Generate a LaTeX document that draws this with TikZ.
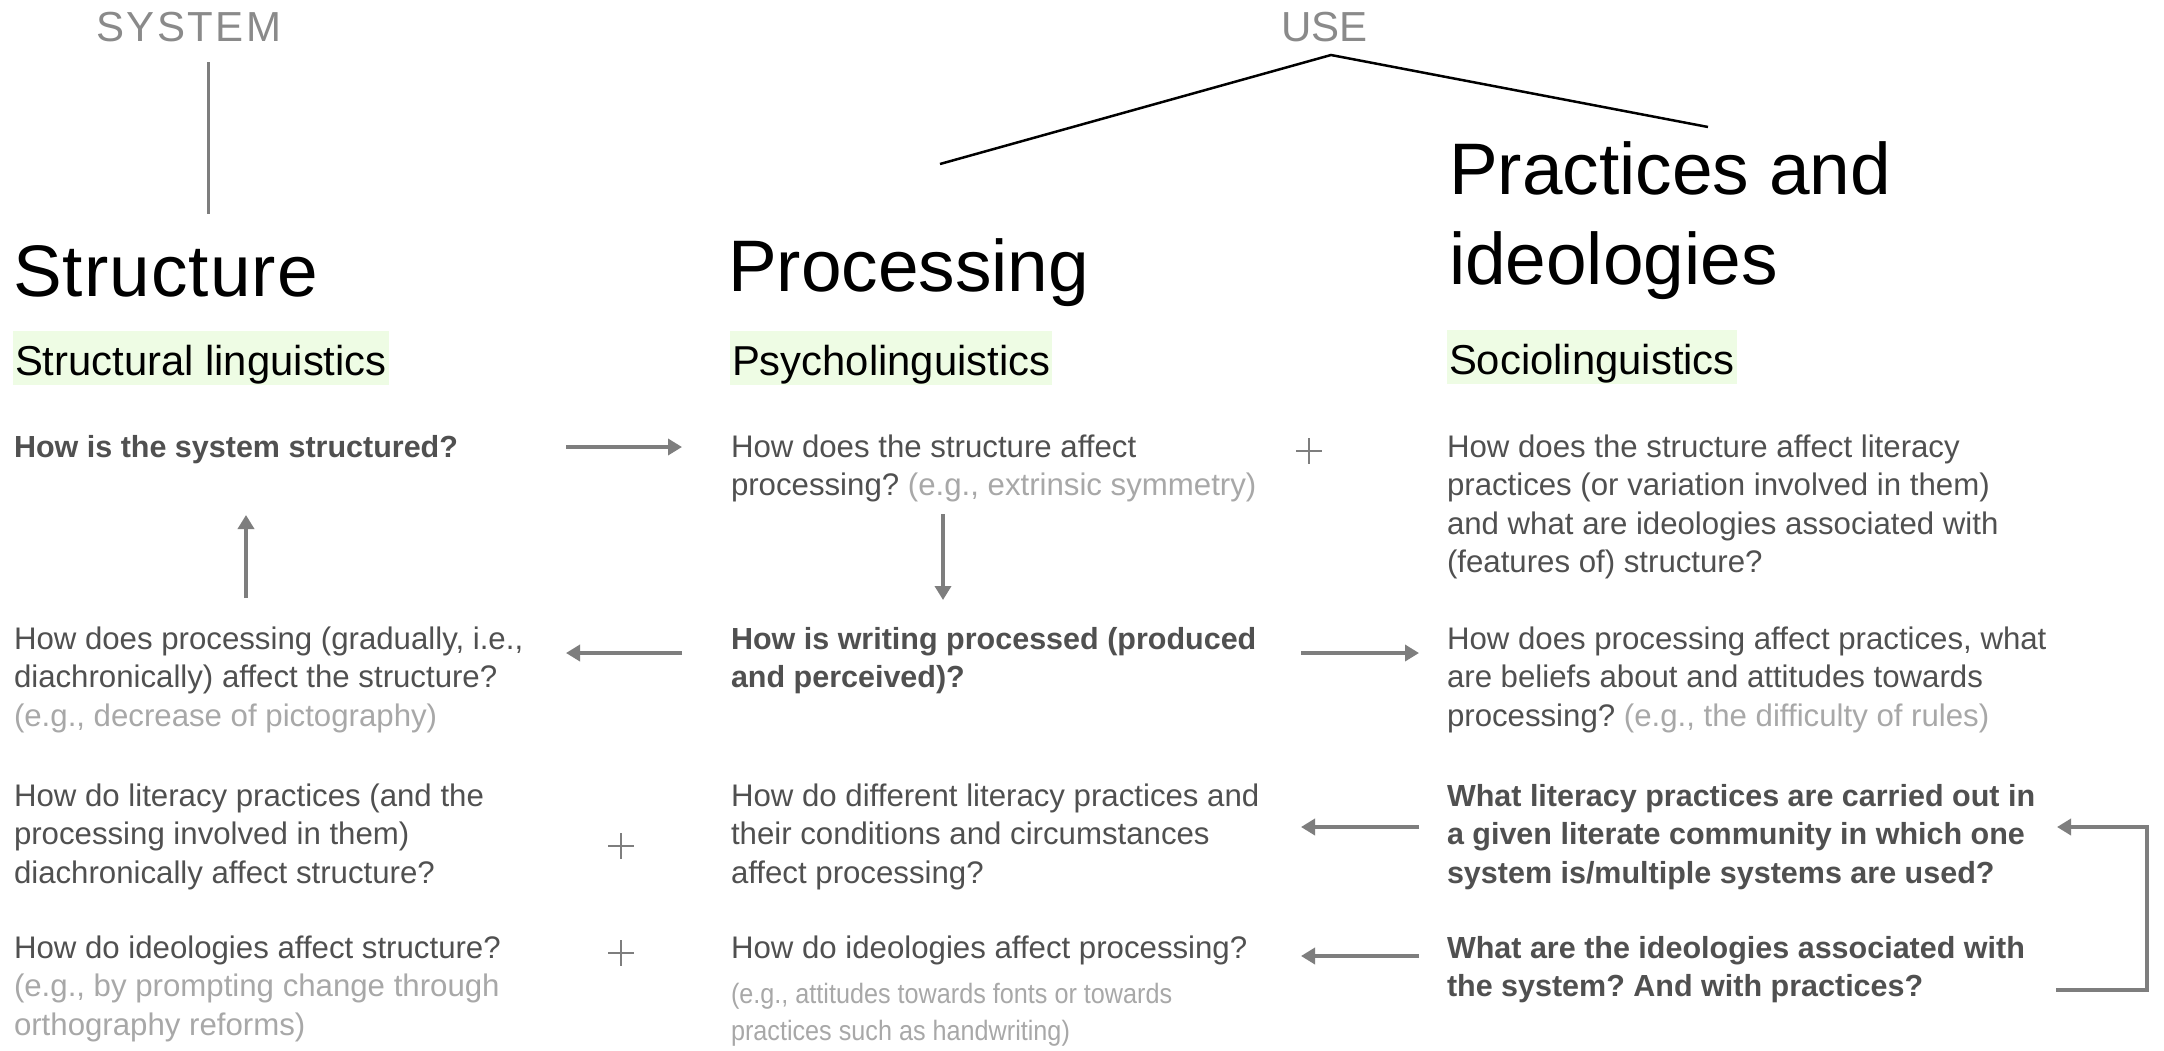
\documentclass[tikz,border=0pt]{standalone}
\usepackage{fontspec}
\setmainfont{Liberation Sans}
\newfontfamily\trackfont{Liberation Sans}[LetterSpace=6]
\newfontfamily\tightfont{Liberation Sans}[FakeStretch=0.9]
\newfontfamily\headfont{Liberation Sans}[LetterSpace=1.5]
\usetikzlibrary{arrows.meta}
\definecolor{bodytxt}{HTML}{505050}
\definecolor{egtxt}{HTML}{A8A8A8}
\definecolor{linegray}{HTML}{7E7E7E}
\definecolor{hlgreen}{HTML}{EEFCE4}
\definecolor{toplab}{HTML}{8A8A8A}
\newcommand{\eg}[1]{\textcolor{egtxt}{#1}}
\newcommand{\fstrut}{\rule{0pt}{30pt}}
\frenchspacing
\tikzset{
  toplabel/.style={anchor=base west, inner sep=0, outer sep=0, text=toplab, font=\fontsize{42}{50}\selectfont},
  heading/.style={anchor=north west, inner sep=0, outer sep=0, text=black, align=left, font=\fontsize{73}{90}\selectfont},
  subhead/.style={anchor=base west, inner xsep=2pt, inner ysep=0pt, outer sep=0, fill=hlgreen, text=black, font=\fontsize{41.8}{50}\selectfont, text height=44pt, text depth=10pt},
  qtext/.style={anchor=north west, inner sep=0, outer sep=0, text=bodytxt, align=left, font=\fontsize{31.2}{38.6}\selectfont},
  qbold/.style={qtext, font=\fontsize{30.5}{38.6}\selectfont\bfseries},
  egsmall/.style={anchor=north west, inner sep=0, outer sep=0, text=egtxt, align=left, font=\tightfont\fontsize{28}{37}\selectfont},
  arr/.style={draw=linegray, line width=4pt, -{Triangle[length=14pt,width=16pt]}},
  bracketarr/.style={draw=linegray, line width=3.5pt, -{Triangle[length=14pt,width=16pt]}},
  sysline/.style={draw=linegray, line width=3pt},
  useline/.style={draw=black, line width=2.5pt, line join=miter},
  plusline/.style={draw=linegray, line width=2pt}
}
\begin{document}
\begin{tikzpicture}[x=1pt,y=-1pt]
\useasboundingbox[fill=white] (0,0) rectangle (2164,1050);

% top labels
\node[toplabel, font=\trackfont\fontsize{42}{50}\selectfont] (system) at (96,41) {SYSTEM};
\node[toplabel] (use) at (1281,41) {USE};
\coordinate (sysA) at (208,62);
\coordinate (sysB) at (208,214);
\draw[sysline] (sysA) -- (sysB);
\coordinate (useL) at (940,164);
\coordinate (useApex) at (1331,55);
\coordinate (useR) at (1708,127);
\draw[useline] (useL) -- (useApex) -- (useR);

% headings
\node[heading, font=\headfont\fontsize{73}{90}\selectfont] (hstruct) at (13,236) {\rule{0pt}{60pt}Structure};
\node[heading] (hproc) at (728,231) {\rule{0pt}{60pt}Processing};
\node[heading] (hprac) at (1449,134) {\rule{0pt}{60pt}Practices and\\ideologies};

% sub headings
\node[subhead] (sstruct) at (13,375) {Structural linguistics};
\node[subhead] (sproc) at (730,375) {Psycholinguistics};
\node[subhead] (sprac) at (1447,374) {Sociolinguistics};

% row 1
\node[qbold] (q11) at (14,427) {\fstrut How is the system structured?};
\node[qtext] (q12) at (731,427) {\fstrut How does the structure affect\\processing? \eg{(e.g., extrinsic symmetry)}};
\node[qtext] (q13) at (1447,427) {\fstrut How does the structure affect literacy\\practices (or variation involved in them)\\and what are ideologies associated with\\(features of) structure?};

% row 2
\node[qtext] (q21) at (14,619) {\fstrut How does processing (gradually, i.e.,\\diachronically) affect the structure?\\\eg{(e.g., decrease of pictography)}};
\node[qbold] (q22) at (731,619) {\fstrut How is writing processed (produced\\and perceived)?};
\node[qtext] (q23) at (1447,619) {\fstrut How does processing affect practices, what\\are beliefs about and attitudes towards\\processing? \eg{(e.g., the difficulty of rules)}};

% row 3
\node[qtext] (q31) at (14,776) {\fstrut How do literacy practices (and the\\processing involved in them)\\diachronically affect structure?};
\node[qtext] (q32) at (731,776) {\fstrut How do different literacy practices and\\their conditions and circumstances\\affect processing?};
\node[qbold] (q33) at (1447,776) {\fstrut What literacy practices are carried out in\\a given literate community in which one\\system is/multiple systems are used?};

% row 4
\node[qtext] (q41) at (14,928) {\fstrut How do ideologies affect structure?\\\eg{(e.g., by prompting change through}\\\eg{orthography reforms)}};
\node[qtext] (q42) at (731,928) {\fstrut How do ideologies affect processing?};
\node[egsmall] (q42eg) at (731,973) {\fstrut (e.g., attitudes towards fonts or towards\\practices such as handwriting)};
\node[qbold] (q43) at (1447,928) {\fstrut What are the ideologies associated with\\the system? And with practices?};

% arrows
\coordinate (a1s) at (566,447); \coordinate (a1e) at (682,447);
\draw[arr] (a1s) -- (a1e);
\coordinate (a2s) at (246,598); \coordinate (a2e) at (246,515);
\draw[arr] (a2s) -- (a2e);
\coordinate (a3s) at (943,514); \coordinate (a3e) at (943,600);
\draw[arr] (a3s) -- (a3e);
\coordinate (a4s) at (682,653); \coordinate (a4e) at (566,653);
\draw[arr] (a4s) -- (a4e);
\coordinate (a5s) at (1301,653); \coordinate (a5e) at (1419,653);
\draw[arr] (a5s) -- (a5e);
\coordinate (a6s) at (1419,827); \coordinate (a6e) at (1301,827);
\draw[arr] (a6s) -- (a6e);
\coordinate (a7s) at (1419,956); \coordinate (a7e) at (1301,956);
\draw[arr] (a7s) -- (a7e);

% bracket
\coordinate (bA) at (2056,990);
\coordinate (bB) at (2147,990);
\coordinate (bC) at (2147,827);
\coordinate (bD) at (2057,827);
\draw[bracketarr] (bA) -- (bB) -- (bC) -- (bD);

% plus signs
\coordinate (p1) at (1309,451);
\coordinate (p2) at (621,846);
\coordinate (p3) at (621,953);
\foreach \p in {p1,p2,p3}{
  \draw[plusline] (\p) ++(-13,0) -- ++(26,0);
  \draw[plusline] (\p) ++(0,-13) -- ++(0,26);
}
\end{tikzpicture}
\end{document}
